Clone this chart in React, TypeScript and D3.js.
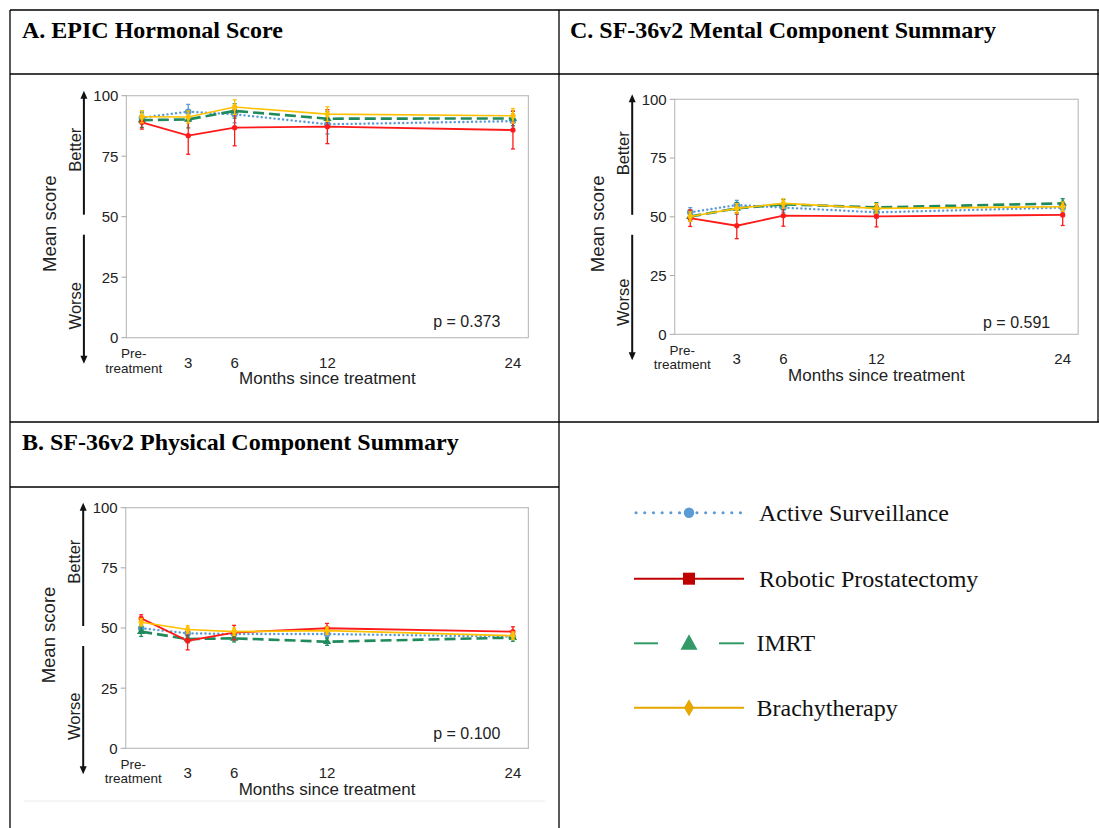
import * as d3 from 'd3';

const months = [0, 3, 6, 12, 24];
const monthLabels = ['Pre-treatment', '3', '6', '12', '24'];
const yTicks = [0, 25, 50, 75, 100];

// A. EPIC Hormonal Score
const hormonalActive = [90.9, 93.4, 92.3, 88.2, 89.5];
const hormonalActiveErr = [2.5, 3.0, 3.5, 4.0, 3.0];
const hormonalRobotic = [89.0, 83.5, 86.8, 87.2, 85.8];
const hormonalRoboticErr = [2.8, 7.7, 7.5, 7.0, 7.8];
const hormonalImrt = [89.9, 90.2, 93.7, 90.5, 90.6];
const hormonalImrtErr = [3.0, 3.5, 3.0, 3.0, 3.0];
const hormonalBrachy = [91.3, 91.2, 95.3, 92.4, 91.7];
const hormonalBrachyErr = [2.5, 2.5, 3.0, 3.0, 3.0];

// C. SF-36v2 Mental Component Summary
const mentalActive = [51.9, 55.0, 53.9, 51.9, 53.9];
const mentalActiveErr = [2.0, 2.0, 2.0, 2.5, 2.0];
const mentalRobotic = [49.4, 46.2, 50.5, 50.2, 50.8];
const mentalRoboticErr = [3.5, 5.5, 4.5, 4.5, 4.5];
const mentalImrt = [50.1, 53.6, 55.3, 54.0, 55.7];
const mentalImrtErr = [2.0, 2.5, 2.0, 2.0, 2.0];
const mentalBrachy = [50.1, 53.6, 55.7, 53.6, 54.3];
const mentalBrachyErr = [2.0, 2.0, 2.0, 2.0, 2.0];

// B. SF-36v2 Physical Component Summary
const physicalActive = [49.9, 47.8, 47.5, 47.5, 46.4];
const physicalActiveErr = [1.5, 1.5, 1.5, 1.5, 1.0];
const physicalRobotic = [54.0, 44.7, 48.1, 49.9, 48.5];
const physicalRoboticErr = [1.5, 3.8, 3.0, 2.0, 2.0];
const physicalImrt = [48.5, 45.4, 45.7, 44.3, 46.0];
const physicalImrtErr = [2.0, 1.5, 1.5, 1.5, 1.5];
const physicalBrachy = [52.4, 49.4, 48.5, 48.9, 46.8];
const physicalBrachyErr = [1.5, 1.5, 1.5, 1.5, 1.5];

const groupNames = ['Active Surveillance', 'Robotic Prostatectomy', 'IMRT', 'Brachytherapy'];

const sans = '"Liberation Sans", Arial, sans-serif';
const serif = '"Liberation Serif", "Times New Roman", serif';

const styles = [
  { color: '#5b9bd5', dash: '0.1 4.2', width: 2.4, cap: 'round', symbol: d3.symbolCircle, size: 34 },
  { color: '#ff1a1a', dash: null, width: 1.8, cap: 'butt', symbol: d3.symbolCircle, size: 22 },
  { color: '#1f8a5b', dash: '11 5', width: 2.6, cap: 'butt', symbol: d3.symbolTriangle, size: 30 },
  { color: '#ffc000', dash: null, width: 1.6, cap: 'butt', symbol: d3.symbolDiamond, size: 30 }
];

const drawOrder = [0, 2, 1, 3];

function Panel({ frame, values, errors, pText, pDy }) {
  const x = d3.scaleLinear().domain([-1, 25]).range([frame.left, frame.right]);
  const y = d3.scaleLinear().domain([0, 100]).range([frame.bottom, frame.top]);
  const mid = y(50);
  const ax = frame.left - 42.5;
  const preX = x(months[0]) - 8;

  const line = d3
    .line<number>()
    .x((_, i) => x(months[i]))
    .y((v) => y(v));

  return (
    <g>
      <rect
        x={frame.left}
        y={frame.top}
        width={frame.right - frame.left}
        height={frame.bottom - frame.top}
        fill="none"
        stroke="#bfbfbf"
        strokeWidth={1.2}
      />
      {yTicks.map((t) => (
        <g key={t}>
          <line x1={frame.left - 5} x2={frame.left} y1={y(t)} y2={y(t)} stroke="#a6a6a6" strokeWidth={1} />
          <text x={frame.left - 8} y={y(t)} dy="0.36em" textAnchor="end" fontSize={15} fill="#222">
            {t}
          </text>
        </g>
      ))}
      {monthLabels.map((label, i) =>
        i === 0 ? (
          <g key={label}>
            <text x={preX} y={frame.bottom + 20.5} textAnchor="middle" fontSize={13.5} fill="#222">
              Pre-
            </text>
            <text x={preX} y={frame.bottom + 35} textAnchor="middle" fontSize={13.5} fill="#222">
              treatment
            </text>
          </g>
        ) : (
          <text key={label} x={x(months[i])} y={frame.bottom + 30} textAnchor="middle" fontSize={15} fill="#222">
            {label}
          </text>
        )
      )}
      <text x={x(12)} y={frame.bottom + 46.5} textAnchor="middle" fontSize={17} fill="#222">
        Months since treatment
      </text>
      <text
        transform={`translate(${frame.left - 77},${mid + 7}) rotate(-90)`}
        textAnchor="middle"
        dominantBaseline="central"
        fontSize={18.5}
        fill="#222"
      >
        Mean score
      </text>
      <text
        transform={`translate(${frame.left - 51.5},${frame.top + 54}) rotate(-90)`}
        textAnchor="middle"
        dominantBaseline="central"
        fontSize={16.5}
        fill="#222"
      >
        Better
      </text>
      <text
        transform={`translate(${frame.left - 51.5},${frame.bottom - 32}) rotate(-90)`}
        textAnchor="middle"
        dominantBaseline="central"
        fontSize={16.5}
        fill="#222"
      >
        Worse
      </text>
      <line x1={ax} x2={ax} y1={frame.top - 1} y2={mid - 2} stroke="#111" strokeWidth={2} />
      <path d={`M${ax},${frame.top - 5} l-3.5,8 h7 z`} fill="#111" />
      <line x1={ax} x2={ax} y1={mid + 18} y2={frame.bottom + 22} stroke="#111" strokeWidth={2} />
      <path d={`M${ax},${frame.bottom + 26} l-3.5,-8 h7 z`} fill="#111" />

      {drawOrder.map((si) => {
        const s = styles[si];
        const vals = values[si];
        const errs = errors[si];
        return (
          <g key={si}>
            {vals.map((v, i) => (
              <g key={i} stroke={s.color} strokeWidth={1.3}>
                <line x1={x(months[i])} x2={x(months[i])} y1={y(v - errs[i])} y2={y(v + errs[i])} />
                <line x1={x(months[i]) - 2} x2={x(months[i]) + 2} y1={y(v - errs[i])} y2={y(v - errs[i])} />
                <line x1={x(months[i]) - 2} x2={x(months[i]) + 2} y1={y(v + errs[i])} y2={y(v + errs[i])} />
              </g>
            ))}
            <path
              d={line(vals) || ''}
              fill="none"
              stroke={s.color}
              strokeWidth={s.width}
              strokeDasharray={s.dash || undefined}
              strokeLinecap={s.cap as any}
            />
            {vals.map((v, i) => (
              <path
                key={i}
                transform={`translate(${x(months[i])},${y(v)})`}
                d={d3.symbol().type(s.symbol).size(s.size)() || ''}
                fill={s.color}
              />
            ))}
          </g>
        );
      })}
      <text x={frame.right - 28} y={frame.bottom - pDy} textAnchor="end" fontSize={16} fill="#222">
        {pText}
      </text>
    </g>
  );
}

const legendColors = ['#5b9bd5', '#c00000', '#339966', '#e6a700'];
const legendRows = [512.7, 578.7, 643.3, 707.7];

function Legend() {
  const x0 = 634;
  const x1 = 744;
  const cx = 689;
  return (
    <g>
      {groupNames.map((name, i) => {
        const yy = legendRows[i];
        const c = legendColors[i];
        let lineEl;
        let marker;
        if (i === 0) {
          lineEl = (
            <line x1={x0 + 2} x2={x1} y1={yy} y2={yy} stroke={c} strokeWidth={3} strokeDasharray="0.1 8.6" strokeLinecap="round" />
          );
          marker = <circle cx={cx} cy={yy} r={5.2} fill={c} />;
        } else if (i === 1) {
          lineEl = <line x1={x0} x2={x1} y1={yy} y2={yy} stroke={c} strokeWidth={2} />;
          marker = <rect x={cx - 6} y={yy - 6} width={12} height={12} fill={c} />;
        } else if (i === 2) {
          lineEl = (
            <g stroke={c} strokeWidth={2}>
              <line x1={x0} x2={x0 + 24} y1={yy} y2={yy} />
              <line x1={x1 - 25} x2={x1} y1={yy} y2={yy} />
            </g>
          );
          marker = <path d={`M${cx},${yy - 9} L${cx + 8.5},${yy + 6.5} L${cx - 8.5},${yy + 6.5} Z`} fill={c} />;
        } else {
          lineEl = <line x1={x0} x2={x1} y1={yy} y2={yy} stroke={c} strokeWidth={2} />;
          marker = <path d={`M${cx},${yy - 8.5} L${cx + 5},${yy} L${cx},${yy + 8.5} L${cx - 5},${yy} Z`} fill={c} />;
        }
        return (
          <g key={name}>
            {lineEl}
            {marker}
            <text x={i < 2 ? 759 : 756.5} y={yy + 8} fontFamily={serif} fontSize={24} fill="#111">
              {name}
            </text>
          </g>
        );
      })}
    </g>
  );
}

export default function App() {
  return (
    <svg
      width={1099}
      height={828}
      style={{ position: 'absolute', left: 0, top: 0, background: '#fff' }}
      fontFamily={sans}
    >
      <rect width={1099} height={828} fill="#fff" />
      <g stroke="#000" strokeWidth={1.3}>
        <line x1={10} x2={1099} y1={10} y2={10} />
        <line x1={10} x2={1099} y1={74} y2={74} />
        <line x1={10} x2={1099} y1={422} y2={422} />
        <line x1={10} x2={559} y1={487} y2={487} />
        <line x1={10} x2={10} y1={10} y2={828} />
        <line x1={559} x2={559} y1={10} y2={828} />
        <line x1={1098} x2={1098} y1={10} y2={422} />
      </g>
      <line x1={24} x2={545} y1={801} y2={801} stroke="#ececec" strokeWidth={1} />

      <g fontFamily={serif} fontWeight="bold" fontSize={24} fill="#000">
        <text x={22} y={38}>A. EPIC Hormonal Score</text>
        <text x={570} y={38}>C. SF-36v2 Mental Component Summary</text>
        <text x={22} y={450}>B. SF-36v2 Physical Component Summary</text>
      </g>

      <Panel
        frame={{ left: 126.4, right: 528.4, top: 95.7, bottom: 337.7 }}
        values={[hormonalActive, hormonalRobotic, hormonalImrt, hormonalBrachy]}
        errors={[hormonalActiveErr, hormonalRoboticErr, hormonalImrtErr, hormonalBrachyErr]}
        pText="p = 0.373"
        pDy={10.5}
      />
      <Panel
        frame={{ left: 674.7, right: 1078.2, top: 99.3, bottom: 334.3 }}
        values={[mentalActive, mentalRobotic, mentalImrt, mentalBrachy]}
        errors={[mentalActiveErr, mentalRoboticErr, mentalImrtErr, mentalBrachyErr]}
        pText="p = 0.591"
        pDy={6}
      />
      <Panel
        frame={{ left: 125.7, right: 528.4, top: 507.7, bottom: 748.3 }}
        values={[physicalActive, physicalRobotic, physicalImrt, physicalBrachy]}
        errors={[physicalActiveErr, physicalRoboticErr, physicalImrtErr, physicalBrachyErr]}
        pText="p = 0.100"
        pDy={9.5}
      />
      <Legend />
    </svg>
  );
}
